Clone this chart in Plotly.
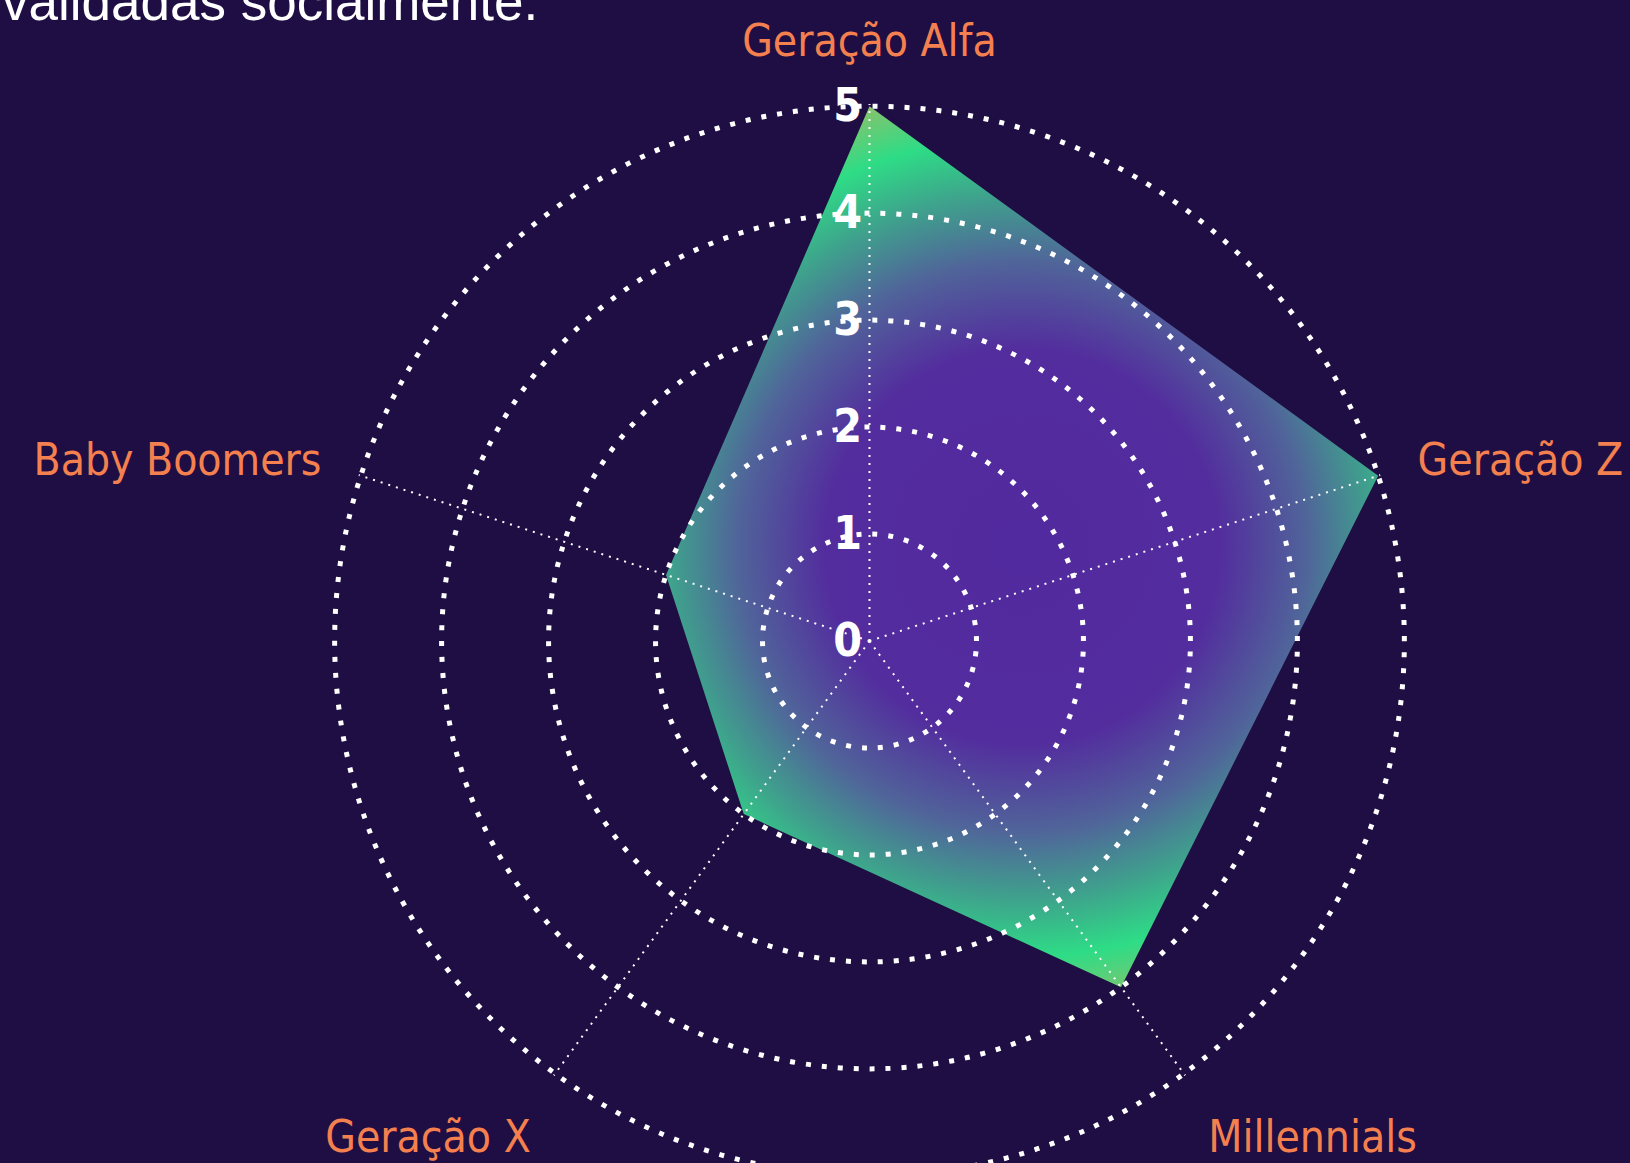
import numpy as np
import plotly.graph_objects as go

# ---- data ----
categories = ["Geração Alfa", "Geração Z", "Millennials", "Geração X", "Baby Boomers"]
values = [5, 5, 4, 2, 2]
radial_ticks = [0, 1, 2, 3, 4, 5]
title_line = "validadas socialmente."

# ---- style ----
BG = "#1f0e43"
LABEL = "#f5804f"
COND = "Noto Sans Condensed, DejaVu Sans Condensed, Liberation Sans Narrow, sans-serif"
grad_scale = [
    [0.0, "#522a9f"],
    [0.42, "#532c9e"],
    [0.61, "#50649a"],
    [0.76, "#3ea48c"],
    [0.88, "#2edc86"],
    [1.0, "#88c26c"],
]

W, H = 1630, 1300
cx, cy, R = 869.5, 641.0, 537.0   # centre and outer radius of the polar area (px)
rmax = 5.02
xd = [(cx - R) / W, (cx + R) / W]
yd = [(H - (cy + R)) / H, (H - (cy - R)) / H]

# polygon in a cartesian space that shares the radial axis scale
ang = np.deg2rad(np.arange(len(categories)) * 360.0 / len(categories))
vals = np.array(values, dtype=float)
xs = vals * np.sin(ang)
ys = vals * np.cos(ang)

# circular gradient: centred on the polygon's bounding box, reaching its farthest vertex.
# Two zero-area helper sub-paths make the fill's bounding box square so the gradient is round.
gcx, gcy = (xs.min() + xs.max()) / 2, (ys.min() + ys.max()) / 2
grad_r = float(np.max(np.hypot(xs - gcx, ys - gcy)))
eps = 0.05
fill_x = list(xs) + [None, gcx - grad_r, gcx - grad_r + eps, None, gcx + grad_r, gcx + grad_r - eps]
fill_y = list(ys) + [None, gcy - grad_r, gcy - grad_r, None, gcy + grad_r, gcy + grad_r]

fig = go.Figure()
fig.add_trace(go.Scatter(
    x=fill_x, y=fill_y, fill="toself", mode="lines", connectgaps=False,
    line=dict(width=0, color="rgba(0,0,0,0)"),
    fillgradient=dict(type="radial", colorscale=grad_scale),
    hoverinfo="skip", showlegend=False,
))
fig.add_trace(go.Scatterpolar(
    r=values, theta=categories, mode="lines",
    line=dict(color="rgba(0,0,0,0)", width=0), hoverinfo="skip", showlegend=False,
))

fig.update_layout(
    width=W, height=H, autosize=False,
    margin=dict(l=0, r=0, t=0, b=0),
    paper_bgcolor=BG, plot_bgcolor="rgba(0,0,0,0)",
    showlegend=False, hovermode=False,
    xaxis=dict(domain=xd, range=[-rmax, rmax], visible=False, fixedrange=True),
    yaxis=dict(domain=yd, range=[-rmax, rmax], visible=False, fixedrange=True),
    polar=dict(
        domain=dict(x=xd, y=yd),
        bgcolor="rgba(0,0,0,0)",
        radialaxis=dict(
            range=[0, rmax], tickvals=radial_ticks, ticktext=[str(v) for v in radial_ticks],
            angle=90, tickangle=90, side="counterclockwise",
            showline=False, ticks="",
            showgrid=True, gridcolor="white", gridwidth=5, griddash="5px,11px",
            tickfont=dict(family=COND, size=46, color="white", weight=700),
            layer="above traces",
        ),
        angularaxis=dict(
            type="category", categoryarray=categories,
            direction="clockwise", rotation=90,
            showline=False,
            showgrid=True, gridcolor="white", gridwidth=2, griddash="2px,6px",
            ticks="outside", ticklen=30, tickcolor="rgba(0,0,0,0)",
            tickfont=dict(family=COND, size=44, color=LABEL),
            layer="above traces",
        ),
    ),
    annotations=[dict(
        text=title_line, showarrow=False,
        x=0, xref="paper", xanchor="left",
        y=1 - 33.0 / H, yref="paper", yanchor="bottom",
        font=dict(family="Liberation Sans, Arial, sans-serif", size=53, color="white"),
    )],
)

post = (
    "var gd=document.getElementById('{plot_id}');"
    "document.body.style.margin='0';document.body.style.overflow='hidden';"
    "gd.parentElement.style.height='1163px';gd.parentElement.style.overflow='hidden';"
)
fig.write_html("out.html", post_script=post, config={"displayModeBar": False})
